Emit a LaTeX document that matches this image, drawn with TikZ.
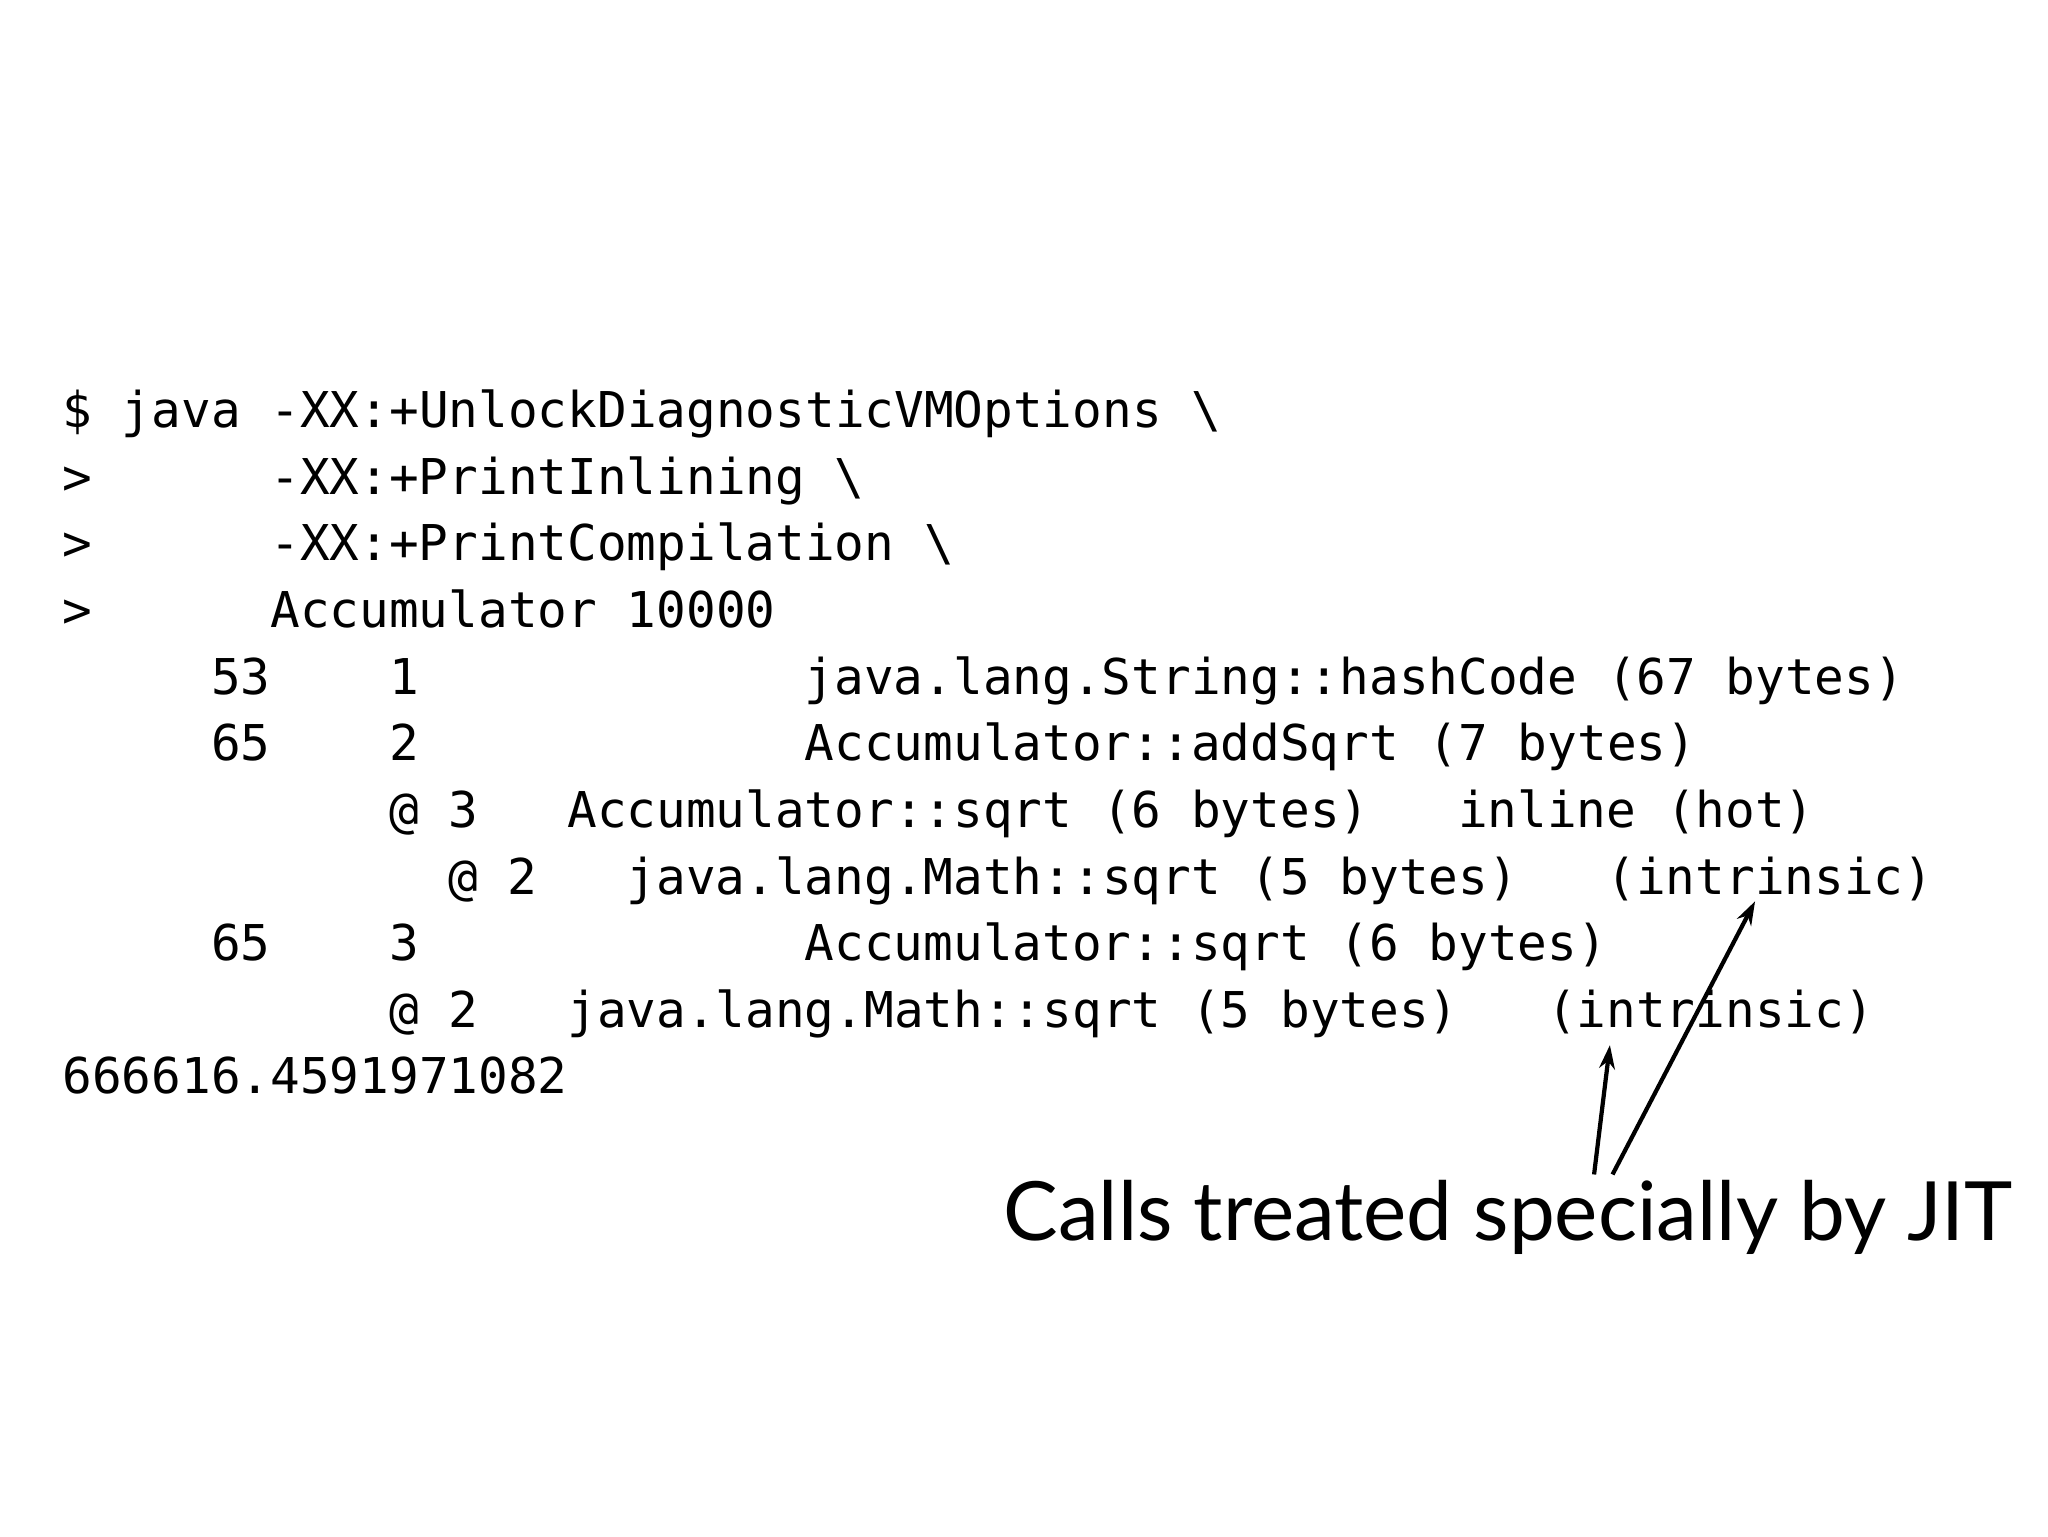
\documentclass[tikz,border=0pt]{standalone}
\usepackage{fontspec}
\newfontfamily\monofam{DejaVu Sans Mono}
\newfontfamily\capfam{Lato}
\usetikzlibrary{arrows.meta}
\begin{document}
\begin{tikzpicture}[x=0.5pt,y=-0.5pt,
  t/.style={anchor=base west,inner sep=0pt,font=\monofam\fontsize{18.7}{20}\selectfont},
  arr/.style={line width=1.6pt,-{Stealth[length=9pt,width=6pt]}}]
\useasboundingbox (0,0) rectangle (1552,1164);
\fill[white] (0,0) rectangle (1552,1164);
\foreach \r/\c/\s in {
 0/0/{\$ java -XX:+UnlockDiagnosticVMOptions \textbackslash},
 1/0/{>}, 1/7/{-XX:+PrintInlining \textbackslash},
 2/0/{>}, 2/7/{-XX:+PrintCompilation \textbackslash},
 3/0/{>}, 3/7/{Accumulator 10000},
 4/5/{53}, 4/11/{1}, 4/25/{java.lang.String::hashCode (67 bytes)},
 5/5/{65}, 5/11/{2}, 5/25/{Accumulator::addSqrt (7 bytes)},
 6/11/{@}, 6/13/{3}, 6/17/{Accumulator::sqrt (6 bytes)}, 6/47/{inline (hot)},
 7/13/{@}, 7/15/{2}, 7/19/{java.lang.Math::sqrt (5 bytes)}, 7/52/{(intrinsic)},
 8/5/{65}, 8/11/{3}, 8/25/{Accumulator::sqrt (6 bytes)},
 9/11/{@}, 9/13/{2}, 9/17/{java.lang.Math::sqrt (5 bytes)}, 9/50/{(intrinsic)},
 10/0/{666616.4591971082}}
 \node[t] (n\r-\c) at ({47+22.5*\c},{324+50.5*\r}) {\s};
\node[anchor=base west,inner sep=0pt,font=\capfam\fontsize{31}{34}\selectfont] (caption) at (760,940) {Calls treated specially by JIT};
\coordinate (a1) at (1208,890);
\coordinate (a2) at (1222,890);
\coordinate (t1) at (1220,792);
\coordinate (t2) at (1330,683);
\draw[arr] (a1) -- (t1);
\draw[arr] (a2) -- (t2);
\end{tikzpicture}
\end{document}
